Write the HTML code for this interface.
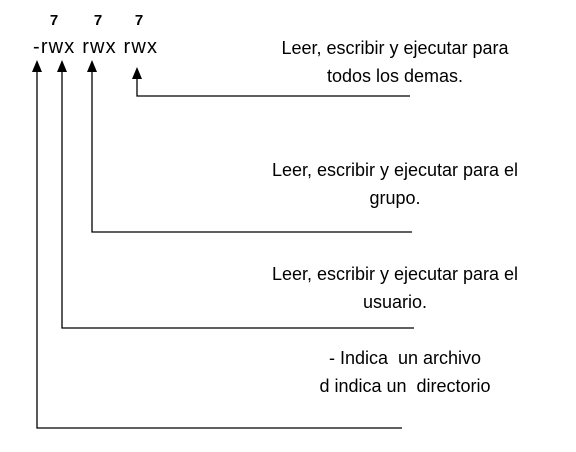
<!DOCTYPE html>
<html><head><style>
body{margin:0;width:576px;height:452px;background:#fff;position:relative;font-family:"Liberation Sans",sans-serif;}
.t{position:absolute;font-size:18px;color:#000;text-align:center;white-space:nowrap;}
</style></head><body>
<svg width="576" height="452" style="position:absolute;left:0;top:0">
<g stroke="#000" stroke-width="1.3" fill="none">
<polyline points="37,70 37,428 402,428"/>
<polyline points="62,70 62,328 414,328"/>
<polyline points="92,70 92,232 412,232"/>
<polyline points="137,78 137,96 410,96"/>
</g>
<g fill="#000">
<polygon points="37,60 32,72 42,72"/>
<polygon points="62,60 57,72 67,72"/>
<polygon points="92,60 87,72 97,72"/>
<polygon points="137,67 132,79 142,79"/>
</g>
<g font-family="Liberation Sans, sans-serif" font-weight="bold" font-size="15" text-anchor="middle">
<text x="54" y="25">7</text><text x="98" y="25">7</text><text x="139" y="25">7</text>
</g>
<text x="33" y="53" font-family="Liberation Sans, sans-serif" font-size="20" textLength="124" lengthAdjust="spacing">-rwx rwx rwx</text>
</svg>
<div class="t" style="left:245px;top:34px;width:300px;line-height:28px">Leer, escribir y ejecutar para<br>todos los demas.</div>
<div class="t" style="left:245px;top:156px;width:300px;line-height:28px">Leer, escribir y ejecutar para el<br>grupo.</div>
<div class="t" style="left:245px;top:260px;width:300px;line-height:28px">Leer, escribir y ejecutar para el<br>usuario.</div>
<div class="t" style="left:290px;top:344px;width:230px;line-height:28px">- Indica&nbsp; un archivo<br>d indica un&nbsp; directorio</div>
</body></html>
